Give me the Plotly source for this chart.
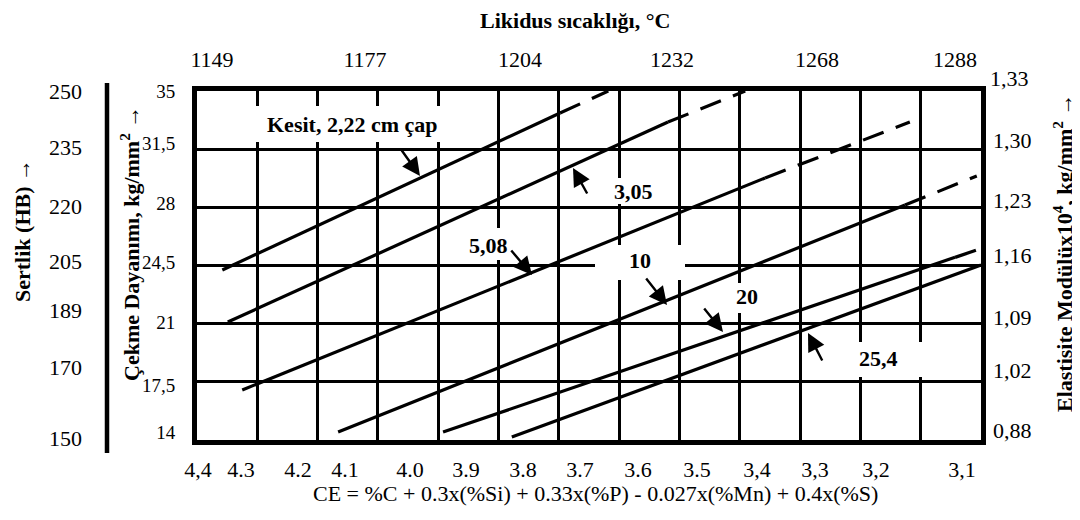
import plotly.graph_objects as go

# ---------------- data ----------------
sections = ["2,22", "3,05", "5,08", "10", "20", "25,4"]
ce_start = [4.358, 4.349, 4.325, 4.166, 3.992, 3.878]
ts_start = [24.23, 21.10, 17.01, 14.48, 14.48, 14.18]
ce_break = [3.798, 3.619, 3.458, 3.226, 3.143, 3.100]
ts_break = [33.68, 33.13, 29.77, 28.14, 24.99, 24.53]
ce_end = [3.718, 3.491, 3.218, 3.107, 3.107, 3.100]
ts_end = [35.0, 35.0, 33.13, 29.89, 25.43, 24.53]

ce_grid = [4.4, 4.3, 4.2, 4.1, 4.0, 3.9, 3.8, 3.7, 3.6, 3.5, 3.4, 3.3, 3.2, 3.1]
ce_labels = ["4,4", "4.3", "4.2", "4.1", "4.0", "3.9", "3.8", "3.7", "3.6", "3.5", "3,4", "3,3", "3,2", "3,1"]
ts_grid = [14, 17.5, 21, 24.5, 28, 31.5, 35]
ts_labels = ["14", "17,5", "21", "24,5", "28", "31,5", "35"]
hb_labels = ["150", "170", "189", "205", "220", "235", "250"]
e_labels = ["0,88", "1,02", "1,09", "1,16", "1,23", "1,30", "1,33"]
temp_labels = ["1149", "1177", "1204", "1232", "1268", "1288"]

# ---------------- layout helpers (pixel geometry of the 1080x520 page) ----------------
OFF = 8                      # browser body margin
W, H = 1080 - OFF, 520 - OFF
PL, PR, PT, PB = 197, 981, 91, 440   # plot frame in page pixels


def px_x(px):
    return (px - OFF) / W


def py_y(py):
    return (PB - py) / (PB - PT)


def ce_at(px):
    return 4.4 - (px - PL) / (PR - PL) * 1.3


def ts_at(py):
    return 35 - (py - PT) / (PB - PT) * 21


ce_label_pos = [ce_at(p) for p in [198, 241, 298, 345, 410, 466, 523, 580, 638, 697, 757, 815, 876, 962]]
temp_pos = [ce_at(p) for p in [212, 365, 520, 672, 817, 955]]
ts_label_pos = [ts_at(p) for p in [432, 385, 322, 262, 203, 143, 91]]
hb_pos = [ts_at(p) for p in [438, 367, 310, 261, 206, 147, 91]]
e_pos = [ts_at(p) for p in [430, 370, 317, 255, 200, 140]]

FONT = "Liberation Serif"

fig = go.Figure()

for i in range(len(sections)):
    fig.add_trace(go.Scatter(
        x=[ce_start[i], ce_break[i]], y=[ts_start[i], ts_break[i]],
        mode="lines", line=dict(color="black", width=3.2),
        showlegend=False, hoverinfo="skip"))
    if ce_end[i] != ce_break[i]:
        fig.add_trace(go.Scatter(
            x=[ce_break[i], ce_end[i]], y=[ts_break[i], ts_end[i]],
            mode="lines", line=dict(color="black", width=3.2, dash="22px,13px"),
            showlegend=False, hoverinfo="skip"))

# dummy traces to instantiate the extra axes
for xa, ya in [("x2", "y"), ("x3", "y"), ("x", "y2"), ("x", "y3"), ("x", "y4")]:
    fig.add_trace(go.Scatter(x=[None], y=[None], xaxis=xa, yaxis=ya,
                             showlegend=False, hoverinfo="skip"))

tickfont = dict(family=FONT, size=22, color="black")
tsfont = dict(family=FONT, size=19, color="black")
xdom = [px_x(PL), px_x(PR)]

fig.update_layout(
    template="none",
    width=W, height=H,
    margin=dict(l=0, r=0, t=PT - OFF, b=H - (PB - OFF), pad=0, autoexpand=False),
    paper_bgcolor="white", plot_bgcolor="white",
    font=dict(family=FONT, color="black"),
    xaxis=dict(domain=xdom, range=[4.4, 3.1], tickvals=ce_grid, showticklabels=False,
               ticks="", showgrid=True, gridcolor="black", gridwidth=3.2, zeroline=False,
               showline=True, linecolor="black", linewidth=4.5, mirror=True, automargin=False),
    xaxis2=dict(overlaying="x", side="bottom", anchor="y", range=[4.4, 3.1],
                tickvals=ce_label_pos, ticktext=ce_labels, showgrid=False, zeroline=False,
                showline=False, automargin=False,
                ticks="outside", ticklen=10, tickcolor="rgba(0,0,0,0)", tickfont=tickfont),
    xaxis3=dict(overlaying="x", side="top", anchor="y", range=[4.4, 3.1],
                tickvals=temp_pos, ticktext=temp_labels, showgrid=False, zeroline=False,
                showline=False, automargin=False,
                ticks="outside", ticklen=14, tickcolor="rgba(0,0,0,0)", tickfont=tickfont),
    yaxis=dict(range=[14, 35], tickvals=ts_grid, showticklabels=False, showgrid=True,
               gridcolor="black", gridwidth=3.2, zeroline=False, automargin=False, ticks="",
               showline=True, linecolor="black", linewidth=4.5, mirror=True),
    yaxis4=dict(overlaying="y", side="left", anchor="x", range=[14, 35],
                tickvals=ts_label_pos, ticktext=ts_labels, showgrid=False, zeroline=False,
                showline=False, automargin=False,
                ticks="outside", ticklen=17, tickcolor="rgba(0,0,0,0)", tickfont=tsfont),
    yaxis2=dict(overlaying="y", side="right", anchor="free", position=px_x(992),
                range=[14, 35], tickvals=e_pos, ticktext=e_labels[:6], showgrid=False,
                zeroline=False, ticks="", showline=False, tickfont=tickfont, automargin=False),
    yaxis3=dict(overlaying="y", side="left", anchor="free", position=px_x(82),
                range=[14, 35], tickvals=hb_pos, ticktext=hb_labels, showgrid=False,
                zeroline=False, ticks="", showline=False, tickfont=tickfont, automargin=False),
)

# white boxes behind the curve labels (mask the grid)
mask_boxes = [
    (199, 448, 106, 142),
    (593, 672, 178, 204),
    (446, 528, 228, 260),
    (595, 685, 245, 280),
    (700, 793, 283, 313),
    (848, 975, 342, 377),
]
shapes = []
for x0, x1, y0, y1 in mask_boxes:
    shapes.append(dict(type="rect", xref="x", yref="y", x0=ce_at(x0), x1=ce_at(x1),
                       y0=ts_at(y1), y1=ts_at(y0), fillcolor="white",
                       line=dict(width=0), layer="between"))
shapes.append(dict(type="line", xref="paper", yref="paper", x0=px_x(107), x1=px_x(107),
                   y0=py_y(453), y1=py_y(83), line=dict(color="black", width=4.5)))
fig.update_layout(shapes=shapes)

ann = []
bold = dict(family=FONT, size=22, color="black")
C = dict(xanchor="center", yanchor="middle", showarrow=False)
# curve labels
label_px = [(352, 124), (633, 191), (488, 245), (640, 260), (747, 296), (878, 358)]
label_txt = ["<b>Kesit, 2,22 cm çap</b>"] + ["<b>%s</b>" % s for s in sections[1:]]
for (lx, ly), t in zip(label_px, label_txt):
    ann.append(dict(x=ce_at(lx), y=ts_at(ly), xref="x", yref="y", text=t, font=bold, **C))
# arrows (tip, tail) in pixels
arrows = [((420, 176), (400, 148)), ((573, 168), (588, 195)), ((532, 275), (510, 249)),
          ((667, 305), (645, 277)), ((723, 332), (703, 307)), ((808, 333), (823, 362))]
for (tx, ty), (sx, sy) in arrows:
    ann.append(dict(x=ce_at(tx), y=ts_at(ty), xref="x", yref="y", text="",
                    showarrow=True, ax=sx - tx, ay=sy - ty, arrowhead=2,
                    arrowsize=1.5, arrowwidth=2.4, arrowcolor="black"))
# 1,33 label above the grid
ann.append(dict(x=px_x(1009), y=py_y(78), xref="paper", yref="paper", text="1,33",
                font=tickfont, **C))
# titles
ann.append(dict(x=px_x(575), y=py_y(21), xref="paper", yref="paper",
                text="<b>Likidus sıcaklığı, °C</b>", font=bold, **C))
ann.append(dict(x=px_x(595), y=py_y(494), xref="paper", yref="paper",
                text="CE = %C + 0.3x(%Si) + 0.33x(%P) - 0.027x(%Mn) + 0.4x(%S)",
                font=tickfont, **C))
ann.append(dict(x=px_x(22), y=py_y(231), xref="paper", yref="paper", textangle=-90,
                text="<b>Sertlik (HB) →</b>", font=bold, **C))
ann.append(dict(x=px_x(130), y=py_y(244), xref="paper", yref="paper", textangle=-90,
                text="<b>Çekme Dayanımı, kg/mm<sup>2</sup> →</b>", font=bold, **C))
ann.append(dict(x=px_x(1063), y=py_y(253), xref="paper", yref="paper", textangle=-90,
                text="<b>Elastisite Modülüx10<sup>4</sup>, kg/mm<sup>2</sup> →</b>",
                font=bold, **C))
fig.update_layout(annotations=ann)

fig.write_html("out.html")
